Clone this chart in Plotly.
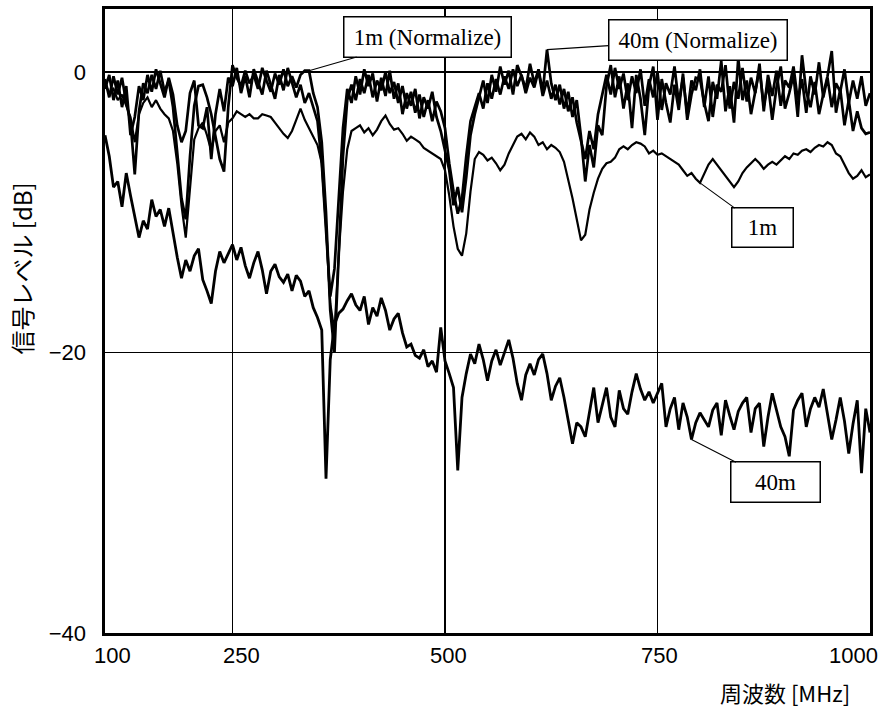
import plotly.graph_objects as go

# Frequency grid of the sweep [MHz]
freq_mhz = list(range(100, 1005, 5))

# 40 m cable, raw signal level [dB]
level_40m = [
    -4.5, -6.0, -8.2, -7.8, -9.6, -7.2, -8.8, -10.4, -11.8, -10.6,
    -11.2, -9.1, -10.3, -9.8, -11.0, -9.7, -11.6, -13.2, -14.7, -13.4,
    -14.2, -13.1, -12.6, -14.8, -15.6, -16.5, -14.2, -12.8, -13.6, -13.0,
    -12.3, -13.4, -12.5, -13.8, -14.7, -13.6, -12.8, -14.1, -15.8, -14.2,
    -13.7, -14.6, -15.0, -14.4, -15.6, -14.5, -14.9, -16.0, -15.6, -16.8,
    -17.5, -18.4, -29.0, -20.5, -18.0, -17.2, -16.9, -16.3, -15.8, -16.6,
    -17.0, -16.0, -18.0, -16.8, -17.4, -16.1, -17.0, -18.4, -17.6, -17.2,
    -18.6, -19.6, -19.4, -20.2, -20.4, -19.8, -21.0, -20.6, -21.4, -18.2,
    -20.6, -21.5, -22.5, -28.4, -23.2, -21.5, -20.1, -20.8, -19.4, -20.5,
    -22.0, -20.6, -19.8, -20.9, -20.0, -19.1, -20.4, -22.2, -23.4, -21.6,
    -20.8, -21.6, -20.5, -20.1, -21.5, -23.4, -22.4, -21.8, -23.2, -24.8,
    -26.5, -25.0, -25.3, -26.0, -24.2, -22.5, -25.0, -23.8, -22.5, -24.6,
    -25.3, -22.7, -24.0, -24.4, -22.8, -21.5, -22.6, -23.4, -22.8, -23.6,
    -22.9, -22.2, -25.3, -24.0, -23.2, -25.5, -23.6, -24.6, -26.2, -25.0,
    -24.3, -24.8, -25.3, -24.1, -23.6, -25.9, -23.4, -24.5, -25.5, -24.2,
    -23.6, -23.2, -25.7, -24.0, -23.6, -26.7, -24.6, -22.9, -24.2, -25.3,
    -26.0, -27.4, -24.1, -23.4, -22.9, -25.3, -24.0, -23.2, -23.9, -22.6,
    -24.4, -26.2, -24.8, -23.2, -24.9, -27.2, -25.1, -23.4, -28.6, -24.0,
    -25.7,
]

# 1 m cable, raw signal level [dB]
level_1m = [
    -0.8, -1.5, -1.2, -2.0, -1.6, -2.4, -3.2, -5.0, -3.0, -2.2,
    -1.8, -2.5, -2.0, -2.6, -3.0, -3.3, -4.2, -6.5, -9.5, -11.8,
    -8.0, -4.8, -4.0, -3.6, -4.5, -5.6, -4.2, -3.8, -5.0, -3.6,
    -3.3, -2.8, -3.0, -3.2, -3.0, -3.3, -3.3, -3.0, -3.1, -3.2,
    -3.6, -4.0, -4.4, -4.7, -4.2, -3.4, -2.6, -3.4, -4.0, -4.5,
    -5.2, -6.5, -11.0, -16.5, -18.5, -13.0, -8.5, -5.5, -4.2, -4.0,
    -3.8, -4.3, -4.0, -4.5, -4.1, -3.5, -3.1, -3.7, -4.1, -4.0,
    -4.4, -4.9, -4.6, -4.8, -5.0, -5.4, -5.6, -5.8, -6.0, -6.2,
    -7.0, -8.8, -11.0, -12.6, -13.1, -11.5, -8.5, -6.2, -5.7, -5.9,
    -6.3, -6.1, -6.5, -7.0, -6.6, -5.8, -5.2, -4.6, -4.4, -4.8,
    -4.3, -4.6, -5.2, -5.0, -5.5, -5.2, -5.4, -5.7, -6.4, -7.6,
    -9.0, -10.5, -12.0, -11.6, -9.8, -8.6, -7.6, -6.9, -6.5, -6.4,
    -6.1, -5.5, -5.3, -5.5, -5.2, -5.0, -5.1, -5.3, -5.8, -5.6,
    -5.9, -5.8, -6.0, -6.2, -6.4, -6.6, -7.0, -7.4, -7.2, -7.6,
    -7.9, -7.2, -6.6, -6.2, -6.6, -7.0, -7.4, -7.8, -8.2, -7.8,
    -7.2, -6.8, -6.5, -6.2, -6.5, -6.9, -6.6, -6.4, -6.6, -6.3,
    -6.0, -6.2, -5.8, -5.9, -5.6, -5.5, -5.7, -5.4, -5.2, -5.3,
    -5.0, -5.2, -5.8, -6.0, -6.6, -7.2, -7.6, -7.4, -7.0, -7.5,
    -7.3,
]

# 1 m cable, normalized level [dB]
level_1m_norm = [
    -0.5, -1.8, -0.3, -1.6, -0.4, -2.2, -3.5, -7.3, -2.8, -0.8,
    -1.5, -0.2, -1.2, 0.1, -1.4, -0.6, -2.5, -5.5, -9.0, -10.5,
    -6.0, -2.4, -1.0, -0.9, -1.8, -3.0, -4.6, -6.2, -7.1, -2.5,
    0.5, -0.4, -1.0, 0.1, -0.8, -0.2, -1.2, 0.3, -0.6, -1.4,
    -0.1, -0.9, 0.2, -1.0, -0.3, -1.1, -0.2, 0.1, 0.1, -1.5,
    -2.5, -5.0, -10.0, -17.0, -20.0, -13.0, -6.0, -2.0, -0.9, -2.0,
    -0.5, -1.5, -0.2, -1.8, -0.6, -1.3, 0.0, -1.5, -0.7, -2.2,
    -1.0, -2.6, -1.4, -2.9, -1.6, -3.2, -2.0, -3.5, -2.1, -2.8,
    -4.0, -6.5, -8.5, -10.1, -9.0, -6.0, -3.5, -2.5, -1.5, -2.6,
    -0.8, -1.9, -0.5, -1.6, -0.3, -1.2, 0.2, -1.0, -0.2, -1.5,
    -0.4, -1.1, 0.1, -1.7, -0.6, -1.9, -0.9, -2.3, -1.2, -2.8,
    -1.8, -3.6, -5.0, -6.2, -4.2, -5.5, -3.0, -1.5, -0.2, -1.6,
    0.3, -1.2, -0.1, -2.0, -0.3, -1.5, 0.2, -2.4, -0.5, -1.8,
    0.0, -2.7, -0.8, -1.6, 0.4, -2.2, -0.4, -3.0, -0.6, -1.3,
    0.2, -2.5, -0.3, -3.2, -0.9, -1.4, 0.5, -2.6, -0.7, -1.9,
    0.3, -2.1, -0.4, -1.5, 0.6, -2.8, -0.2, -1.7, 0.1, -2.4,
    -0.6, -1.1, 0.4, -2.0, -0.5, -2.9, -0.3, -1.6, 0.7, -1.8,
    -0.4, -2.5, -0.8, -1.4, 0.2, -2.2, -0.6, -1.9, -0.3, -2.4,
    -1.5,
]

# 40 m cable, normalized level [dB]
level_40m_norm = [
    -1.2, -0.2, -2.0, -0.6, -2.5, -1.0, -4.5, -3.2, -1.0, -2.0,
    -0.2, -1.4, 0.2, -0.9, -1.8, -0.4, -1.6, -3.8, -5.0, -4.2,
    -1.5, -0.6, -3.8, -4.0, -2.5, -6.2, -3.0, -1.2, -2.8, -0.4,
    -1.0, 0.3, -1.5, -0.3, -1.8, 0.2, -0.7, -1.6, 0.1, -0.9,
    -1.9, -0.2, -1.3, 0.3, -0.7, -1.8, -0.9, -2.2, -1.5, -2.6,
    -3.5, -6.5, -11.5, -16.0, -14.0, -9.0, -4.0, -1.2, -2.2, -0.3,
    -1.6, 0.2, -1.0, -0.1, -2.1, -0.4, -1.7, 0.1, -1.9, -0.8,
    -3.0, -1.5, -2.4, -1.2, -3.3, -1.8, -2.6, -1.4, -3.2, -4.2,
    -5.5, -7.0, -9.5, -8.2, -10.0, -7.5, -4.5, -3.0, -1.8, -0.6,
    -2.2, -0.2, -1.4, 0.4, -0.9, 0.1, -1.6, 0.5, -0.3, -1.2,
    0.6, -0.8, 0.2, -1.4, 1.6, -0.8, -2.0, -0.9, -2.6, -1.4,
    -3.2, -2.0, -4.6, -7.8, -5.2, -6.8, -3.8, -4.5, -1.0, 0.5,
    -1.8, -0.3, -2.6, -0.8, -4.0, -0.2, -1.9, -4.5, -1.0, 0.4,
    -3.4, -0.5, -2.2, -3.6, -0.9, -2.7, -0.1, -3.4, -1.6, -0.4,
    -0.5, -2.2, -3.5, -0.7, -1.9, 0.8, -2.8, -1.0, -3.6, 1.0,
    -2.0, -0.6, -3.0, -1.3, 0.2, -2.4, -0.8, -3.4, -1.1, 0.4,
    -2.6, -1.5, -0.2, -3.2, 1.2, -1.4, -2.5, -0.7, -3.0, -1.6,
    -0.3, 1.5, -2.9, -1.2, -3.8, -2.0, -4.2, -2.8, -4.0, -4.4,
    -4.3,
]

# Axis ticks
x_ticks = [100, 250, 500, 750, 1000]
x_tick_labels = ["100", "250", "500", "750", "1000"]
y_ticks = [-40, -20, 0]
y_tick_labels = ["\u221240", "\u221220", "0"]

# Callout labels: (text, series, frequency the leader points at)
callouts = [
    ("1m (Normalize)", level_1m_norm, 340),
    ("40m (Normalize)", level_40m_norm, 620),
    ("1m", level_1m, 800),
    ("40m", level_40m, 790),
]
# Callout box offsets from the pointed sample [px] and box sizes [px]
callout_style = [
    dict(ax=118, ay=-34, width=166, height=39),
    dict(ax=151, ay=-10, width=177, height=39),
    dict(ax=62, ay=45, width=60, height=38),
    dict(ax=84, ay=43, width=88, height=39),
]
# Horizontal nudges of the x tick labels [px]
x_label_nudge = [7, 9, 3, 2, -17]

LINE = "black"
fig = go.Figure()

fig.add_trace(go.Scatter(x=freq_mhz, y=level_40m, mode="lines",
                         line=dict(color=LINE, width=2.8), name="40m"))
fig.add_trace(go.Scatter(x=freq_mhz, y=level_1m, mode="lines",
                         line=dict(color=LINE, width=2.2), name="1m"))
fig.add_trace(go.Scatter(x=freq_mhz, y=level_1m_norm, mode="lines",
                         line=dict(color=LINE, width=2.7), name="1m (Normalize)"))
fig.add_trace(go.Scatter(x=freq_mhz, y=level_40m_norm, mode="lines",
                         line=dict(color=LINE, width=2.7), name="40m (Normalize)"))

annotations = []
for (text, series, f), st in zip(callouts, callout_style):
    idx = freq_mhz.index(f)
    annotations.append(dict(
        x=f, y=series[idx], xref="x", yref="y",
        text=text, showarrow=True, arrowhead=0, arrowwidth=1.1,
        arrowcolor=LINE, ax=st["ax"], ay=st["ay"],
        width=st["width"], height=st["height"], align="center", valign="middle",
        bgcolor="white", bordercolor=LINE, borderwidth=1.5, borderpad=0,
        font=dict(family="Liberation Serif, Times New Roman, serif", size=23, color=LINE),
    ))

for xv, label, nudge in zip(x_ticks, x_tick_labels, x_label_nudge):
    annotations.append(dict(
        x=xv, y=0, xref="x", yref="paper", text=label, showarrow=False,
        xanchor="center", yanchor="middle", xshift=nudge, yshift=-22,
        font=dict(family="Liberation Sans, Arial, sans-serif", size=22, color=LINE),
    ))

# Axis titles
annotations.append(dict(
    x=0, y=0.584, xref="paper", yref="paper", xshift=-83,
    text="信号レベル [dB]", textangle=-90, showarrow=False,
    xanchor="center", yanchor="middle",
    font=dict(family="Noto Sans CJK JP, sans-serif", size=24, color=LINE),
))
annotations.append(dict(
    x=1, y=0, xref="paper", yref="paper", xshift=-18, yshift=-59,
    text="周波数 [MHz]", showarrow=False, xanchor="right", yanchor="middle",
    font=dict(family="Noto Sans CJK JP, sans-serif", size=22, color=LINE),
))

fig.update_layout(
    width=888, height=714,
    margin=dict(l=105, r=18, t=6, b=81),
    paper_bgcolor="white", plot_bgcolor="white",
    showlegend=False,
    annotations=annotations,
    xaxis=dict(
        range=[100, 1000], tickvals=x_ticks, showticklabels=False,
        showgrid=True, gridcolor=LINE, gridwidth=1.4, zeroline=False,
        showline=True, linecolor=LINE, linewidth=2.6, mirror=True, ticks="",
    ),
    yaxis=dict(
        range=[-40, 4.5], tickvals=y_ticks, ticktext=y_tick_labels,
        showgrid=True, gridcolor=LINE, gridwidth=1.4, zeroline=False,
        showline=True, linecolor=LINE, linewidth=2.6, mirror=True, ticks="",
        ticklabelstandoff=12,
        tickfont=dict(family="Liberation Sans, Arial, sans-serif", size=22, color=LINE),
    ),
)

fig.write_html("out.html", config={"displayModeBar": False, "staticPlot": True})
